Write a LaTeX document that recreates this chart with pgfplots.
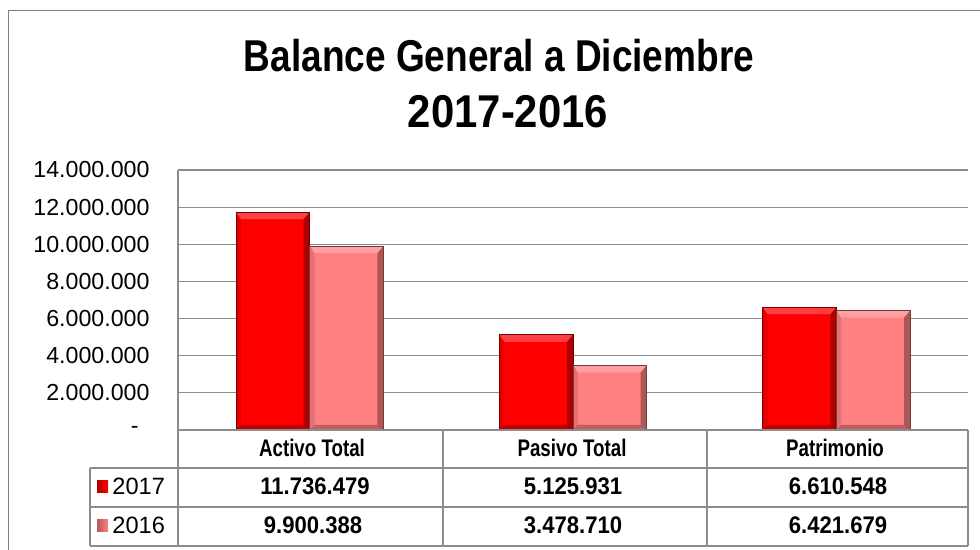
\documentclass[border=0pt]{standalone}
\usepackage{pgfplots}
\pgfplotsset{compat=1.18}
\usepackage{fontspec}
\setmainfont{Liberation Sans}
\newfontfamily\narrow[FakeStretch=0.92]{Liberation Sans}
\newfontfamily\narrowhead[FakeStretch=0.78]{Liberation Sans}
\newfontfamily\narrowtitle[FakeStretch=0.83]{Liberation Sans}
\newfontfamily\narrowyear[FakeStretch=0.91]{Liberation Sans}
\definecolor{r17}{HTML}{FF0000}
\definecolor{r16}{HTML}{FF8080}
\definecolor{gridc}{HTML}{8C8C8C}

% bevelled look of the bars
\tikzset{
  bv/.style={draw=none, path picture={}},
  bevel/.style={path picture={
    \def\bb{path picture bounding box}
    \fill[bv, white, opacity=0.25] (\bb.north west) -- (\bb.north east)
        -- ([xshift=-3pt,yshift=-3.5pt]\bb.north east) -- ([xshift=2.5pt,yshift=-3.5pt]\bb.north west) -- cycle;
    \fill[bv, black, opacity=0.32] (\bb.north east) -- (\bb.south east)
        -- ([xshift=-3pt,yshift=2.5pt]\bb.south east) -- ([xshift=-3pt,yshift=-3.5pt]\bb.north east) -- cycle;
    \fill[bv, black, opacity=0.25] (\bb.south west) -- (\bb.south east)
        -- ([xshift=-3pt,yshift=2.5pt]\bb.south east) -- ([xshift=2.5pt,yshift=2.5pt]\bb.south west) -- cycle;
    \fill[bv, black, opacity=0.10] (\bb.south west) -- (\bb.north west)
        -- ([xshift=2.5pt,yshift=-3.5pt]\bb.north west) -- ([xshift=2.5pt,yshift=2.5pt]\bb.south west) -- cycle;
  }}
}
\pgfplotsset{
  y17/.style={fill=r17, draw=r17!45!black, line width=0.3pt, bevel, bar shift=-0.14},
  y16/.style={fill=r16, draw=r16!45!black, line width=0.3pt, bevel, bar shift=0.14},
}

\begin{document}
\begin{tikzpicture}
\useasboundingbox (0,0) rectangle (490pt,275pt);
\begin{axis}[
    at={(89pt,60pt)}, anchor=south west,
    scale only axis, width=395pt, height=130pt,
    ybar, bar width=0.28,
    xmin=-0.5, xmax=2.5, ymin=0, ymax=14000000,
    xtick=\empty,
    ytick={0,2000000,4000000,6000000,8000000,10000000,12000000,14000000},
    yticklabels={-\hspace*{5.5pt},2.000.000,4.000.000,6.000.000,8.000.000,10.000.000,12.000.000,14.000.000},
    scaled y ticks=false,
    ymajorgrids, grid style={gridc, line width=0.6pt},
    axis line style={draw=none},
    major tick length=0pt,
    yticklabel style={font=\fontsize{11.6}{12}\selectfont, xshift=-10.7pt},
    clip=false,
]
% one plot per bar, so each bar gets its own bevel
\addplot[y17] coordinates {(0,11736479)};
\addplot[y17] coordinates {(1,5125931)};
\addplot[y17] coordinates {(2,6610548)};
\addplot[y16] coordinates {(0,9900388)};
\addplot[y16] coordinates {(1,3478710)};
\addplot[y16] coordinates {(2,6421679)};
\end{axis}

\begin{scope}[x=0.5pt, y=-0.5pt, shift={(0pt,275pt)}]
    % outer frame
    \draw[gray, line width=0.8pt] (8.5,552) -- (8.5,10.5) -- (982,10.5);
    % title
    \node[anchor=base, font=\narrowtitle\bfseries\fontsize{22.3}{24}\selectfont] at (499,72) {Balance General a Diciembre};
    \node[anchor=base, font=\narrowyear\bfseries\fontsize{23}{24}\selectfont] at (508,128) {2017-2016};
    % data table
    \begin{scope}[gridc, line width=0.6pt]
        \draw (178,170) -- (178,546);
        \draw (178,430) -- (968,430);
        \draw (90,468) -- (968,468);
        \draw (90,507) -- (968,507);
        \draw (90,546) -- (968,546);
        \draw (90,468) -- (90,546);
        \draw (443,430) -- (443,546);
        \draw (707,430) -- (707,546);
        \draw (968,430) -- (968,546);
    \end{scope}
    \begin{scope}[every node/.style={anchor=base, font=\narrowhead\bfseries\fontsize{12}{14}\selectfont}]
        \node at (312,457) {Activo Total};
        \node at (572,457) {Pasivo Total};
        \node at (835,457) {Patrimonio};
    \end{scope}
    \begin{scope}[every node/.style={anchor=base, font=\narrow\bfseries\fontsize{12}{14}\selectfont}]
        \node at (315,495) {11.736.479};
        \node at (573,495) {5.125.931};
        \node at (838,495) {6.610.548};
        \node at (313,534) {9.900.388};
        \node at (573,534) {3.478.710};
        \node at (838,534) {6.421.679};
    \end{scope}
    % legend keys
    \shade[left color=r17!70!black, right color=r17] (97,481) rectangle (108,493);
    \shade[left color=r16!70!black, right color=r16] (97,520) rectangle (108,532);
    \node[anchor=base west, inner sep=0pt, font=\fontsize{11.8}{14}\selectfont] at (112,495) {2017};
    \node[anchor=base west, inner sep=0pt, font=\fontsize{11.8}{14}\selectfont] at (112,534) {2016};
\end{scope}
\end{tikzpicture}
\end{document}
